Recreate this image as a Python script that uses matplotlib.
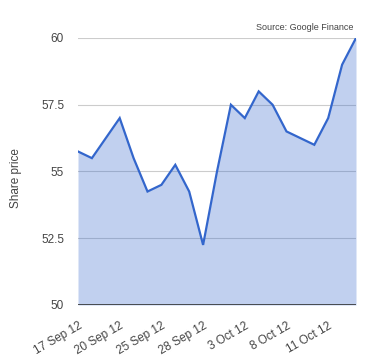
""" Share price area chart """

import matplotlib.pyplot as plt
import matplotlib.transforms as mtransforms
import numpy as np

plt.rcParams['font.family'] = ['Liberation Sans', 'DejaVu Sans']

# data

dates = ['17 Sep 12', '18 Sep 12', '19 Sep 12', '20 Sep 12', '21 Sep 12',
         '24 Sep 12', '25 Sep 12', '26 Sep 12', '27 Sep 12', '28 Sep 12',
         '1 Oct 12', '2 Oct 12', '3 Oct 12', '4 Oct 12', '5 Oct 12',
         '8 Oct 12', '9 Oct 12', '10 Oct 12', '11 Oct 12', '12 Oct 12',
         '15 Oct 12']
prices = [55.75, 55.5, 56.25, 57.0, 55.5, 54.25, 54.5, 55.25, 54.25, 52.25,
          55.0, 57.5, 57.0, 58.0, 57.5, 56.5, 56.25, 56.0, 57.0, 59.0, 60.0]
y_ticks = [50, 52.5, 55, 57.5, 60]
y_tick_labels = ['50', '52.5', '55', '57.5', '60']

# figure design

fig = plt.figure(figsize=(3.8, 3.6), dpi=100)
ax = fig.add_axes([78 / 380, 1 - 305 / 360, 278 / 380, 267 / 360])

x = np.arange(len(prices))
ax.fill_between(x, 50, prices, color='#3366cc', alpha=0.3, lw=0)
ax.plot(x, prices, color='#3366cc', lw=1.6, solid_joinstyle='miter')

ax.set_xlim(0, len(prices) - 1)
ax.set_ylim(50, 60)
ax.set_yticks(y_ticks)
ax.set_yticklabels(y_tick_labels)
ax.set_xticks(x[::3])
ax.set_xticklabels(dates[::3], rotation=30, ha='right', rotation_mode='anchor')

# small shift of the rotated labels to the right
shift = mtransforms.ScaledTranslation(2.5 / 100, 0, fig.dpi_scale_trans)
for lbl in ax.get_xticklabels():
    lbl.set_transform(lbl.get_transform() + shift)

for y in y_ticks[1:]:
    ax.axhline(y, color='#cccccc', lw=0.8, zorder=0)
ax.axhline(50, color='#333333', lw=1.2, zorder=3)

for s in ax.spines.values():
    s.set_visible(False)
ax.tick_params(axis='both', length=0, labelsize=8.5, labelcolor='#444444')
ax.tick_params(axis='y', pad=10)
ax.tick_params(axis='x', pad=11)

fig.text(16 / 380, 1 - 178 / 360, 'Share price', rotation=90, ha='center',
         va='center', fontsize=8.5, color='#444444')
fig.text(353 / 380, 1 - 28 / 360, 'Source: Google Finance', ha='right',
         va='center', fontsize=6.5, color='#444444')

# saving

plt.savefig('out.png', dpi=100)
